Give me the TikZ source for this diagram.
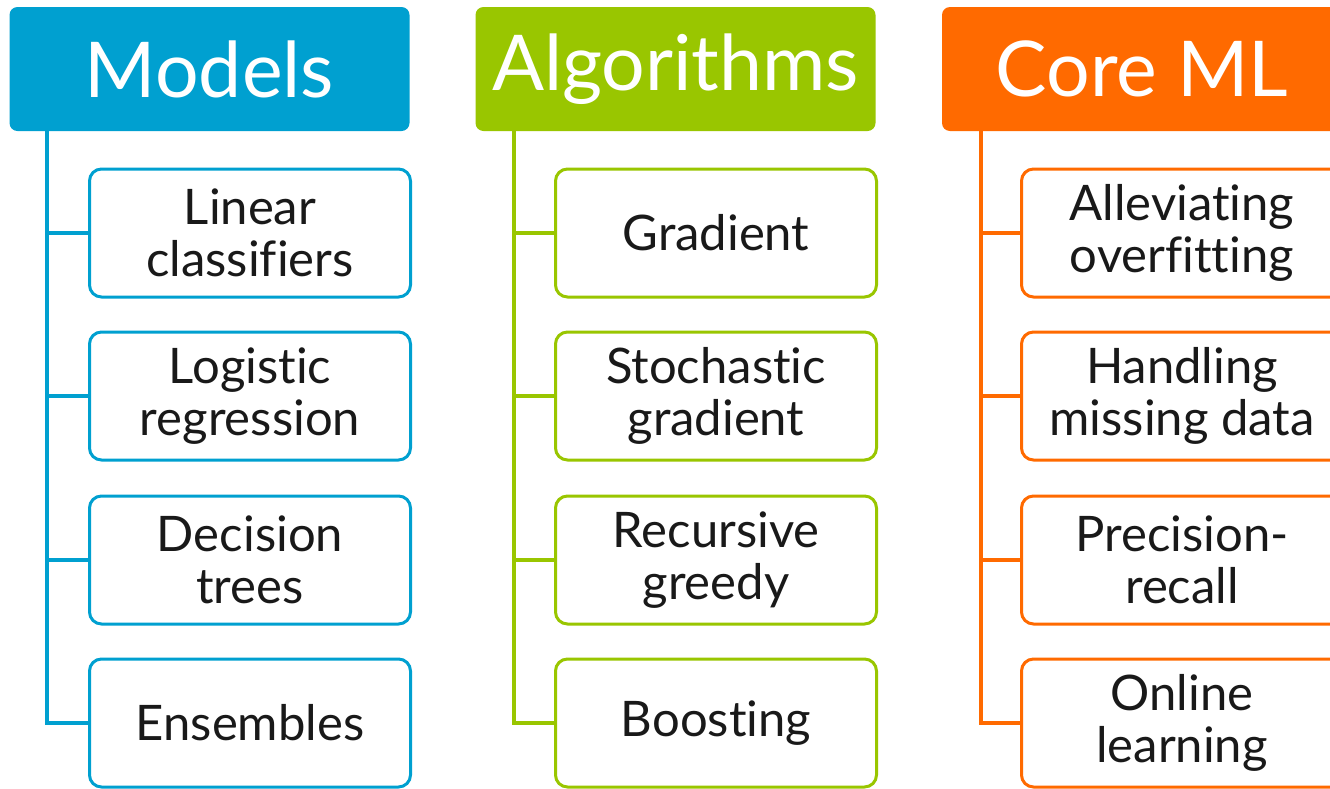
\documentclass[tikz,border=0pt]{standalone}
\usepackage{fontspec}
\setmainfont[RawFeature=-liga]{Lato}
\usetikzlibrary{calc}
\definecolor{mblue}{RGB}{0,160,208}
\definecolor{agreen}{RGB}{153,198,0}
\definecolor{corange}{RGB}{255,106,0}
\definecolor{txt}{RGB}{25,25,25}
\tikzset{
  header/.style={fill=#1, draw=none, rounded corners=8pt, minimum width=400pt, minimum height=124pt,
    inner sep=0pt, text=white, font=\fontsize{77}{82}\selectfont},
  item/.style={draw=#1, line width=3pt, fill=white, rounded corners=12pt, minimum width=321pt, minimum height=128pt,
    inner sep=0pt, text=txt, align=center, font=\fontsize{49}{52}\selectfont},
  link/.style={draw=#1, line width=4pt}
}
\begin{document}
\begin{tikzpicture}[x=1pt,y=-1pt]
\useasboundingbox (0,0) rectangle (1330,788);
\clip (0,0) rectangle (1330,788);
\fill[white] (0,0) rectangle (1330,788);
% Models
\node[header=mblue] (hM) at (209.5,69) {Models};
\node[item=mblue] (m1) at (250,233) {Linear\\classifiers};
\node[item=mblue] (m2) at (250,396) {Logistic\\regression};
\node[item=mblue] (m3) at (250,560) {Decision\\trees};
\node[item=mblue] (m4) at (250,723) {Ensembles};
\coordinate (mt) at ($(hM.south west)+(38,0)$);
\draw[link=mblue] (mt) |- (m4.west);
\foreach \n in {m1,m2,m3} \draw[link=mblue] (mt |- \n.west) -- (\n.west);
% Algorithms
\node[header=agreen] (hA) at (675.5,69) {Algorithms};
\node[item=agreen] (a1) at (716,233) {Gradient};
\node[item=agreen] (a2) at (716,396) {Stochastic\\gradient};
\node[item=agreen] (a3) at (716,560) {Recursive\\greedy};
\node[item=agreen] (a4) at (716,723) {Boosting};
\coordinate (at) at ($(hA.south west)+(39,0)$);
\draw[link=agreen] (at) |- (a4.west);
\foreach \n in {a1,a2,a3} \draw[link=agreen] (at |- \n.west) -- (\n.west);
% Core ML
\node[header=corange] (hC) at (1142,69) {Core ML};
\node[item=corange] (c1) at (1182,233) {Alleviating\\overfitting};
\node[item=corange] (c2) at (1182,396) {Handling\\missing data};
\node[item=corange] (c3) at (1182,560) {Precision-\\recall};
\node[item=corange] (c4) at (1182,723) {Online\\learning};
\coordinate (ct) at ($(hC.south west)+(39,0)$);
\draw[link=corange] (ct) |- (c4.west);
\foreach \n in {c1,c2,c3} \draw[link=corange] (ct |- \n.west) -- (\n.west);
\end{tikzpicture}
\end{document}
